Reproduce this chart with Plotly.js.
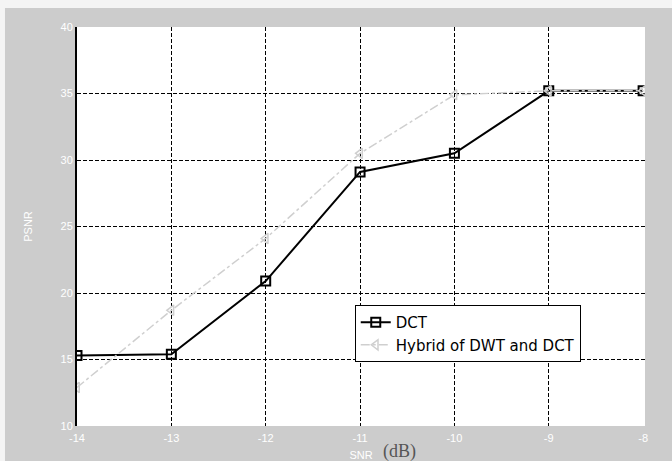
<!DOCTYPE html>
<html>
<head>
<meta charset="utf-8">
<script src="https://cdn.plot.ly/plotly-3.0.1.min.js"></script>
<style>html,body{margin:0;padding:0;background:#fff;}#chart{width:672px;height:461px;}</style>
</head>
<body>
<div id="chart"></div>
<script>
const snr = [-14, -13, -12, -11, -10, -9, -8];
const dct = [15.3, 15.4, 20.9, 29.1, 30.5, 35.2, 35.2];
const hybrid = [12.9, 18.7, 24.1, 30.5, 34.9, 35.2, 35.2];
const yTicks = [10, 15, 20, 25, 30, 35, 40];

// gridlines in the reference are drawn at every tick except the right and bottom edges
const xGrid = snr.slice(0, -1);
const yGrid = yTicks.slice(1);

const xRange = [-14, -7.98];
const yRange = [10, 40];
const gridStyle = {showgrid: true, gridcolor: '#000000', gridwidth: 1, griddash: '4px,2px'};

const traces = [
  {
    x: snr, y: dct, name: 'DCT', type: 'scatter', mode: 'lines+markers',
    line: {color: '#000000', width: 2},
    marker: {symbol: 'square-open', size: 9, color: '#000000', line: {width: 2}}
  },
  {
    x: snr, y: hybrid, name: 'Hybrid of DWT and DCT', type: 'scatter', mode: 'lines+markers',
    line: {color: '#cfcfcf', width: 1.5, dash: 'dashdot'},
    marker: {symbol: 'triangle-left-open', size: 9, color: '#cfcfcf', line: {width: 1.5}}
  },
  // invisible carrier so the grid-only overlay axes are drawn
  {
    x: snr, y: dct, xaxis: 'x2', yaxis: 'y2', type: 'scatter', mode: 'markers',
    marker: {opacity: 0}, showlegend: false, hoverinfo: 'skip'
  }
];

const layout = {
  width: 672, height: 461,
  margin: {l: 77, r: 27, t: 27, b: 35},
  paper_bgcolor: '#cccccc',
  plot_bgcolor: '#ffffff',
  font: {family: 'Liberation Sans, Arial, sans-serif', size: 11, color: '#ffffff'},
  showlegend: true,
  xaxis: {
    range: xRange, tickvals: snr, ticktext: snr.map(String),
    showgrid: false, zeroline: false, showline: false, ticks: '',
    ticklabelstandoff: 4,
    tickfont: {color: '#ffffff', size: 11},
    title: {text: 'SNR', font: {color: '#ffffff', size: 11}, standoff: 8}
  },
  yaxis: {
    range: yRange, tickvals: yTicks,
    showgrid: false, zeroline: false, showline: true, linecolor: '#000000', linewidth: 2, ticks: '',
    tickfont: {color: '#ffffff', size: 11},
    title: {text: 'PSNR', font: {color: '#ffffff', size: 11}, standoff: 26}
  },
  xaxis2: Object.assign({
    overlaying: 'x', anchor: 'y2', range: xRange, tickvals: xGrid, showticklabels: false,
    zeroline: false, showline: false, ticks: ''
  }, gridStyle),
  yaxis2: Object.assign({
    overlaying: 'y', anchor: 'x2', range: yRange, tickvals: yGrid, showticklabels: false,
    zeroline: false, showline: false, ticks: ''
  }, gridStyle),
  legend: {
    x: 0.489, y: 0.303, xanchor: 'left', yanchor: 'top',
    bgcolor: '#ffffff', bordercolor: '#000000', borderwidth: 1,
    font: {color: '#000000', size: 15, family: 'DejaVu Sans, sans-serif'},
    tracegroupgap: 0, itemwidth: 30
  },
  annotations: [
    {xref: 'paper', yref: 'paper', x: 0.535, y: -0.033, xanchor: 'left', yanchor: 'top',
     text: '(dB)', showarrow: false,
     font: {family: 'Liberation Serif, Times New Roman, serif', size: 18, color: '#555555'}}
  ],
  shapes: [
    {type: 'rect', xref: 'paper', yref: 'paper', x0: -0.14, x1: 1.05, y0: 1.0476, y1: 1.07,
     fillcolor: '#f4f4f4', line: {width: 0}, layer: 'below'},
    {type: 'rect', xref: 'paper', yref: 'paper', x0: -0.14, x1: -0.1268, y0: -0.1, y1: 1.07,
     fillcolor: '#f4f4f4', line: {width: 0}, layer: 'below'}
  ]
};

Plotly.newPlot('chart', traces, layout, {displayModeBar: false, staticPlot: true});
</script>
</body>
</html>
